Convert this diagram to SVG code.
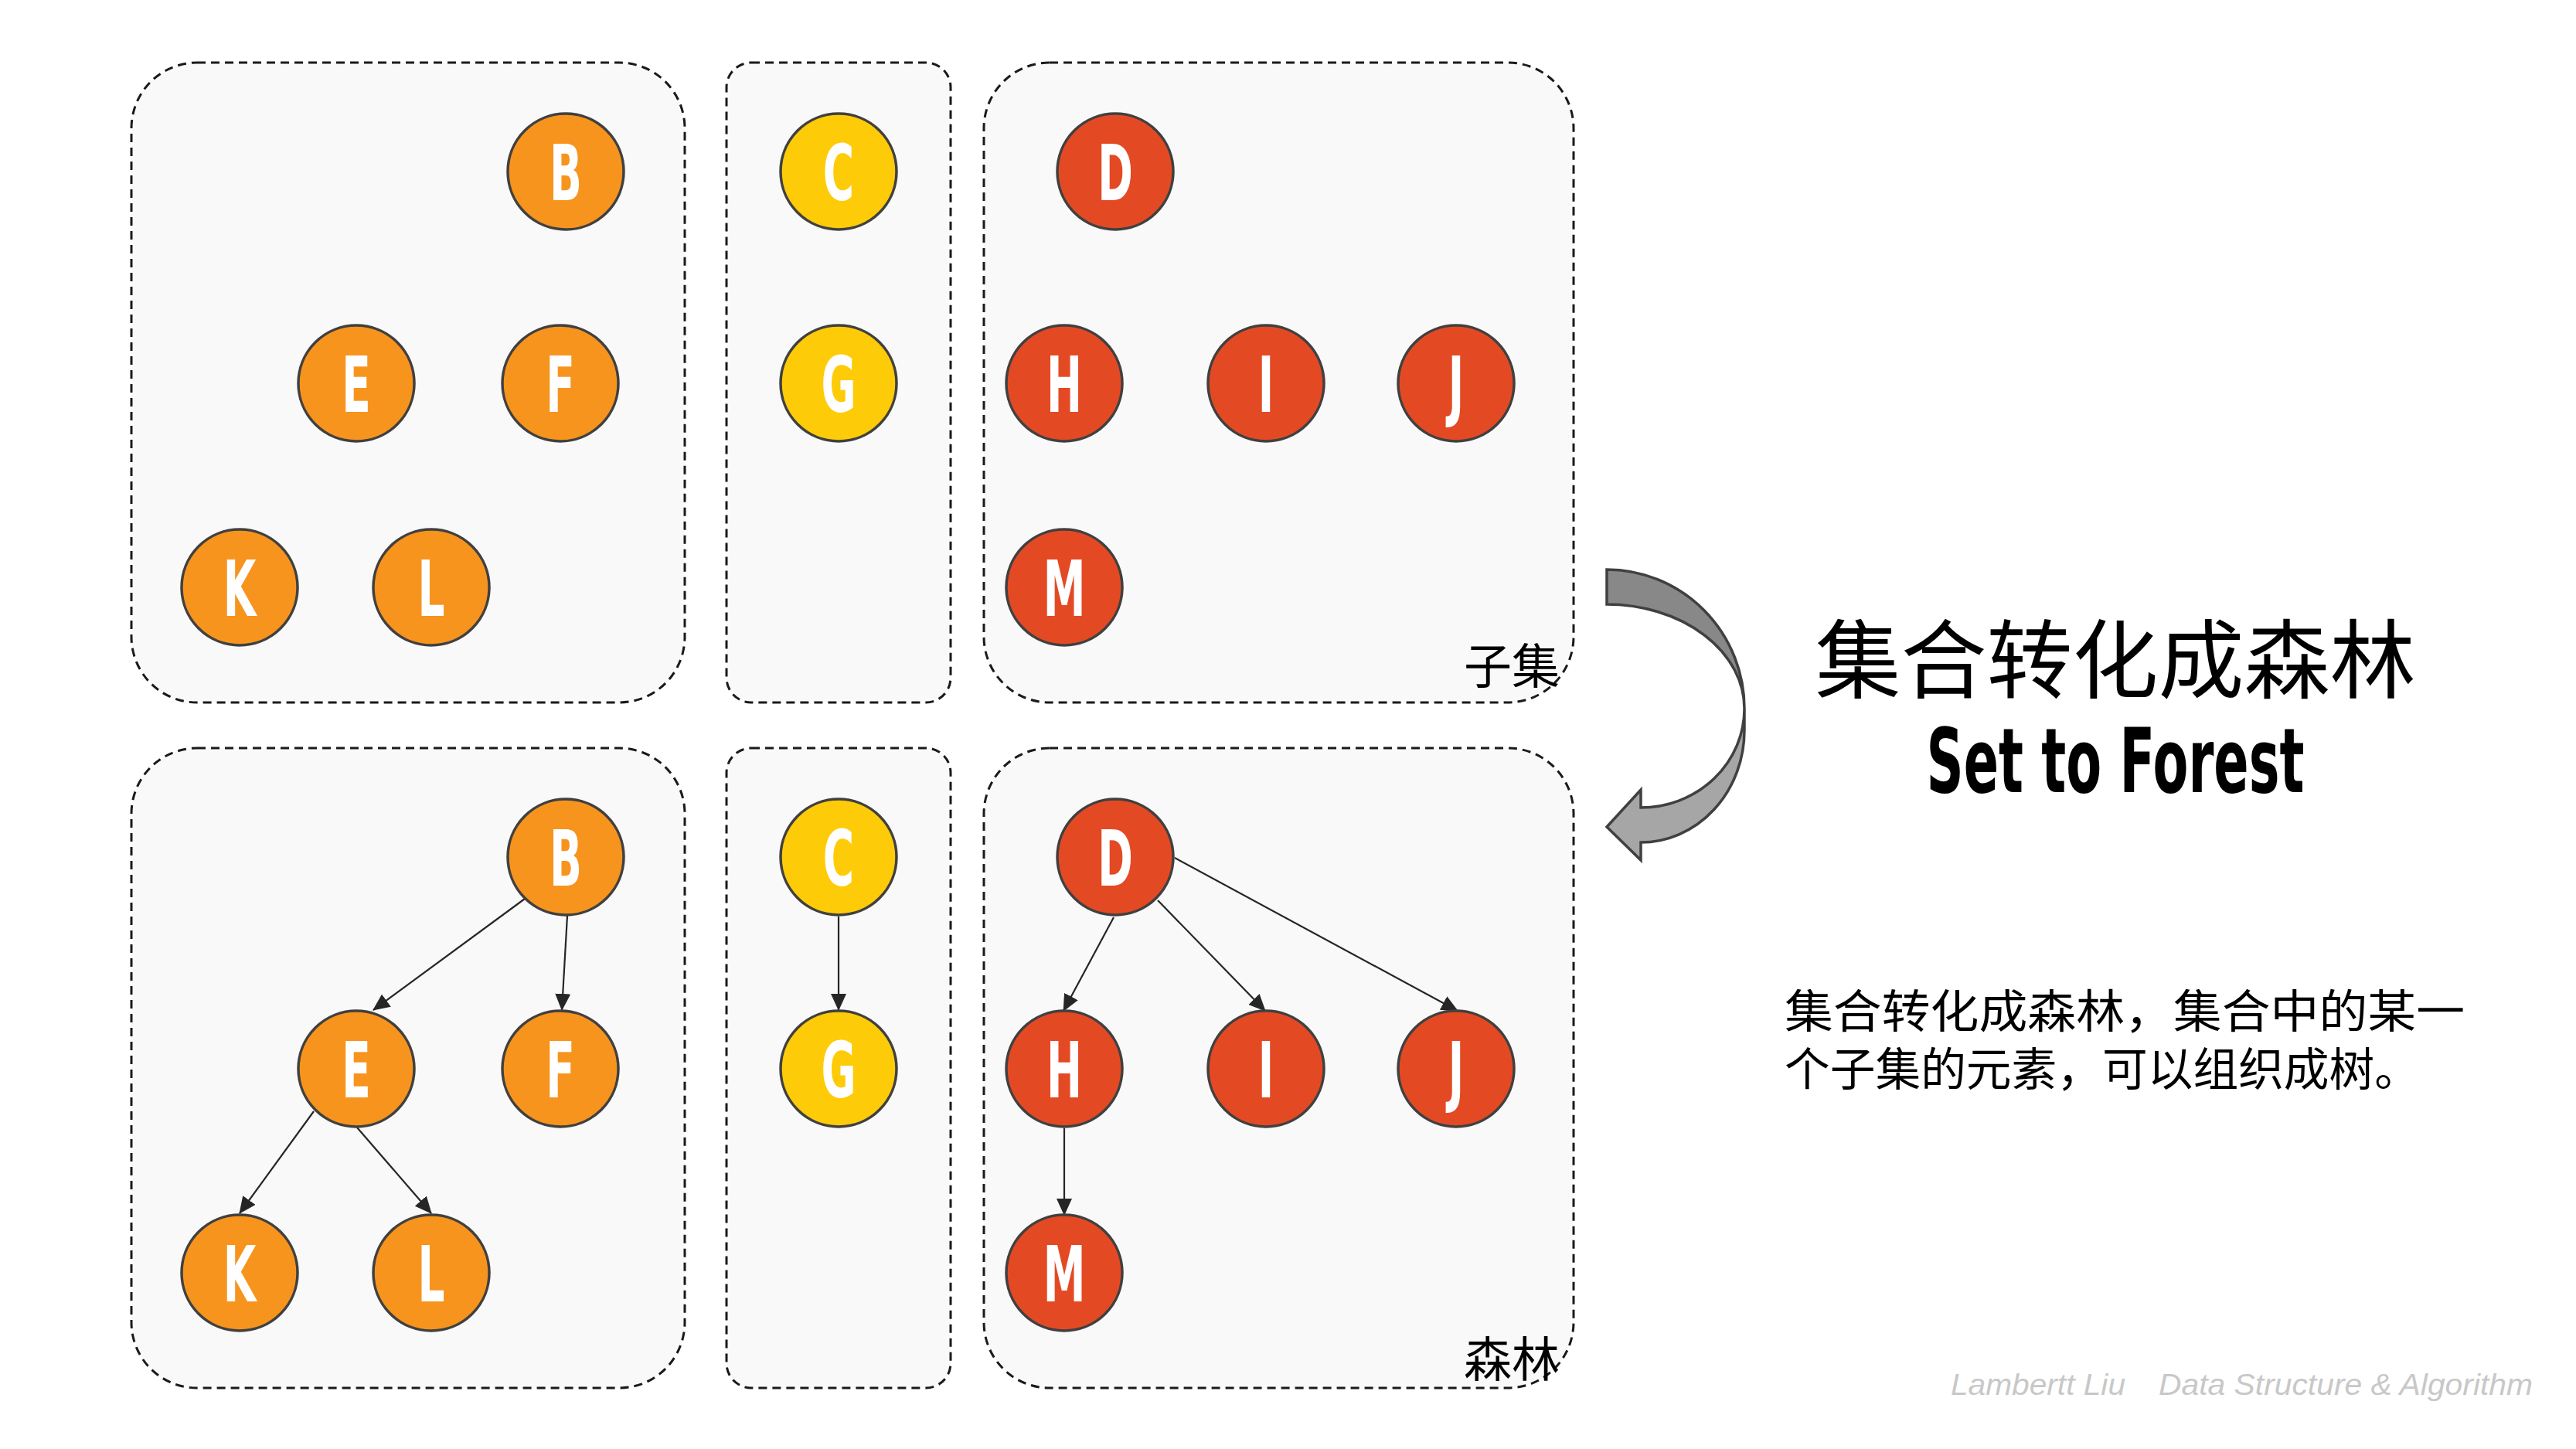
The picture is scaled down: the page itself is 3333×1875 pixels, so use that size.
<svg xmlns="http://www.w3.org/2000/svg" width="3333" height="1875" viewBox="0 0 3333 1875">
<style>
.box{fill:#f9f9f9;stroke:#1a1a1a;stroke-width:3;stroke-dasharray:11 7}
.n{stroke:#404040;stroke-width:3.5}
.o{fill:#f7941e}.y{fill:#fecb08}.r{fill:#e34a24}
.lt{font-family:"DejaVu Sans",sans-serif;font-weight:bold;font-size:100px;fill:#fff;text-anchor:middle}
.e{stroke:#262626;stroke-width:2.2;fill:none;marker-end:url(#ah)}
.cjk{font-family:"Noto Sans CJK SC",sans-serif;fill:#000}
.wm{font-family:"Liberation Sans",sans-serif;font-style:italic;font-size:38px;fill:#c8c8c8}
</style>
<defs>
<marker id="ah" markerUnits="userSpaceOnUse" markerWidth="22" markerHeight="20" refX="21" refY="10" orient="auto">
<path d="M0,0 L22,10 L0,20 Z" fill="#262626"/>
</marker>
</defs>
<rect width="3333" height="1875" fill="#fff"/>
<g id="boxes">
<rect class="box" x="170" y="81" width="716" height="828" rx="85"/>
<rect class="box" x="940" y="81" width="290" height="828" rx="32"/>
<rect class="box" x="1273" y="81" width="763" height="828" rx="85"/>
<rect class="box" x="170" y="968" width="716" height="828" rx="85"/>
<rect class="box" x="940" y="968" width="290" height="828" rx="32"/>
<rect class="box" x="1273" y="968" width="763" height="828" rx="85"/>
</g>
<g id="connectors">
<line class="e" x1="679" y1="1163" x2="483" y2="1307"/>
<line class="e" x1="734" y1="1185" x2="727" y2="1307"/>
<line class="e" x1="406" y1="1438" x2="310" y2="1570"/>
<line class="e" x1="462" y1="1459" x2="558" y2="1570"/>
<line class="e" x1="1085" y1="1186" x2="1085" y2="1307"/>
<line class="e" x1="1441" y1="1187" x2="1376" y2="1308"/>
<line class="e" x1="1498" y1="1165" x2="1637" y2="1308"/>
<line class="e" x1="1520" y1="1110" x2="1886" y2="1308"/>
<line class="e" x1="1377" y1="1460" x2="1377" y2="1572"/>
</g>
<g id="B-set"><circle class="n o" cx="732" cy="222" r="75"/><text class="lt" transform="translate(732,259) scale(0.55,1)">B</text></g>
<g id="E-set"><circle class="n o" cx="461" cy="496" r="75"/><text class="lt" transform="translate(461,533) scale(0.55,1)">E</text></g>
<g id="F-set"><circle class="n o" cx="725" cy="496" r="75"/><text class="lt" transform="translate(725,533) scale(0.55,1)">F</text></g>
<g id="K-set"><circle class="n o" cx="310" cy="760" r="75"/><text class="lt" transform="translate(310,797) scale(0.55,1)">K</text></g>
<g id="L-set"><circle class="n o" cx="558" cy="760" r="75"/><text class="lt" transform="translate(558,797) scale(0.55,1)">L</text></g>
<g id="C-set"><circle class="n y" cx="1085" cy="222" r="75"/><text class="lt" transform="translate(1085,259) scale(0.55,1)">C</text></g>
<g id="G-set"><circle class="n y" cx="1085" cy="496" r="75"/><text class="lt" transform="translate(1085,533) scale(0.55,1)">G</text></g>
<g id="D-set"><circle class="n r" cx="1443" cy="222" r="75"/><text class="lt" transform="translate(1443,259) scale(0.55,1)">D</text></g>
<g id="H-set"><circle class="n r" cx="1377" cy="496" r="75"/><text class="lt" transform="translate(1377,533) scale(0.55,1)">H</text></g>
<g id="I-set"><circle class="n r" cx="1638" cy="496" r="75"/><text class="lt" transform="translate(1638,533) scale(0.55,1)">I</text></g>
<g id="J-set"><circle class="n r" cx="1884" cy="496" r="75"/><text class="lt" transform="translate(1884,533) scale(0.55,1)">J</text></g>
<g id="M-set"><circle class="n r" cx="1377" cy="760" r="75"/><text class="lt" transform="translate(1377,797) scale(0.55,1)">M</text></g>
<g id="B-tree"><circle class="n o" cx="732" cy="1109" r="75"/><text class="lt" transform="translate(732,1146) scale(0.55,1)">B</text></g>
<g id="E-tree"><circle class="n o" cx="461" cy="1383" r="75"/><text class="lt" transform="translate(461,1420) scale(0.55,1)">E</text></g>
<g id="F-tree"><circle class="n o" cx="725" cy="1383" r="75"/><text class="lt" transform="translate(725,1420) scale(0.55,1)">F</text></g>
<g id="K-tree"><circle class="n o" cx="310" cy="1647" r="75"/><text class="lt" transform="translate(310,1684) scale(0.55,1)">K</text></g>
<g id="L-tree"><circle class="n o" cx="558" cy="1647" r="75"/><text class="lt" transform="translate(558,1684) scale(0.55,1)">L</text></g>
<g id="C-tree"><circle class="n y" cx="1085" cy="1109" r="75"/><text class="lt" transform="translate(1085,1146) scale(0.55,1)">C</text></g>
<g id="G-tree"><circle class="n y" cx="1085" cy="1383" r="75"/><text class="lt" transform="translate(1085,1420) scale(0.55,1)">G</text></g>
<g id="D-tree"><circle class="n r" cx="1443" cy="1109" r="75"/><text class="lt" transform="translate(1443,1146) scale(0.55,1)">D</text></g>
<g id="H-tree"><circle class="n r" cx="1377" cy="1383" r="75"/><text class="lt" transform="translate(1377,1420) scale(0.55,1)">H</text></g>
<g id="I-tree"><circle class="n r" cx="1638" cy="1383" r="75"/><text class="lt" transform="translate(1638,1420) scale(0.55,1)">I</text></g>
<g id="J-tree"><circle class="n r" cx="1884" cy="1383" r="75"/><text class="lt" transform="translate(1884,1420) scale(0.55,1)">J</text></g>
<g id="M-tree"><circle class="n r" cx="1377" cy="1647" r="75"/><text class="lt" transform="translate(1377,1684) scale(0.55,1)">M</text></g>
<g id="labels">
<text class="cjk" x="1894" y="885" font-size="62">子集</text>
<text class="cjk" x="1894" y="1782" font-size="62">森林</text>
</g>
<g id="curved-arrow" stroke="#404040" stroke-width="3.5" stroke-linejoin="miter">
<path d="M2079,737 A178,180 0 0 1 2257,917 A178,135 0 0 0 2079,782 Z" fill="#888"/>
<path d="M2257,917 L2257,945 A134,145 0 0 1 2123,1090 L2123,1113 L2079,1070 L2123,1022 L2123,1045 A134,128 0 0 0 2257,917 Z" fill="#a6a6a6"/>
</g>
<g id="title">
<text class="cjk" x="2737" y="895" font-size="111" text-anchor="middle">集合转化成森林</text>
<text x="2737" y="1025" font-family="DejaVu Sans,sans-serif" font-weight="bold" font-size="116" text-anchor="middle" textLength="489" lengthAdjust="spacingAndGlyphs">Set to Forest</text>
</g>
<g id="description" class="cjk" font-size="59">
<text x="2309" y="1330" textLength="880" lengthAdjust="spacingAndGlyphs">集合转化成森林，集合中的某一</text>
<text x="2309" y="1405" textLength="822" lengthAdjust="spacingAndGlyphs">个子集的元素，可以组织成树。</text>
</g>
<g id="watermark">
<text class="wm" x="2524" y="1805" textLength="226" lengthAdjust="spacingAndGlyphs">Lambertt Liu</text>
<text class="wm" x="2793" y="1805" textLength="484" lengthAdjust="spacingAndGlyphs">Data Structure &amp; Algorithm</text>
</g>
</svg>
